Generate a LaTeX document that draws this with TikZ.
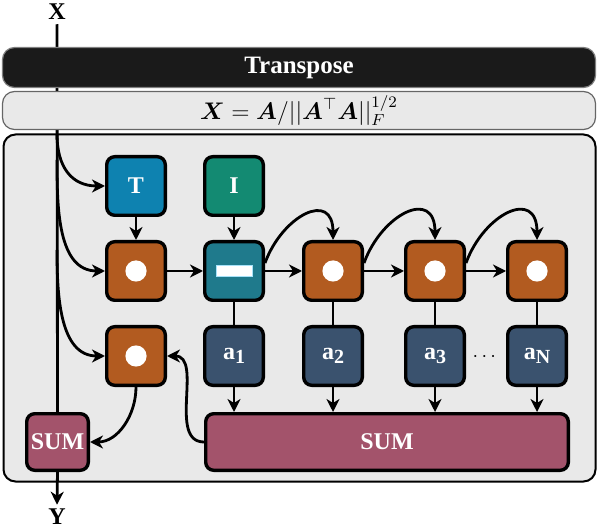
\documentclass[tikz,border=0pt]{standalone}
\usepackage{amsmath}
\usepackage{amssymb}
\usepackage[no-math]{fontspec}
\setmainfont{Liberation Serif}
\usetikzlibrary{arrows.meta}

\definecolor{tblue}{HTML}{0E82B0}
\definecolor{igreen}{HTML}{138A72}
\definecolor{mteal}{HTML}{1F7A8C}
\definecolor{dotorange}{HTML}{B25B20}
\definecolor{aslate}{HTML}{3A526E}
\definecolor{summauve}{HTML}{A3536B}
\definecolor{panelgray}{HTML}{E9E9E9}
\definecolor{barblack}{HTML}{1A1A1A}

\newcommand{\asub}[1]{a\raisebox{-0.4ex}{\fontsize{10}{12}\selectfont #1}}

\tikzset{
  blk/.style={draw=black,line width=1.7pt,rounded corners=4pt,minimum size=29.3pt,inner sep=0pt,text=white,font=\bfseries\fontsize{12}{14}\selectfont},
  dotblk/.style={blk,fill=dotorange,path picture={\fill[white] (path picture bounding box.center) circle (5.3pt);}},
  minusblk/.style={blk,fill=mteal,path picture={\filldraw[white,draw=cyan!35,line width=0.5pt,sharp corners] ([xshift=-9pt,yshift=-2.7pt]path picture bounding box.center) rectangle ++(18pt,5.4pt);}},
  ablk/.style={blk,fill=aslate},
  sumblk/.style={blk,fill=summauve,minimum height=28.3pt},
  wire/.style={line width=1.4pt},
  bar/.style={rounded corners=6pt,minimum width=296.5pt,inner sep=0pt,line width=0.6pt}
}

\begin{document}
\begin{tikzpicture}[x=0.5pt,y=0.5pt,>={Stealth[length=6.5pt,width=6.5pt,inset=2pt]}]
  \useasboundingbox (0,0) rectangle (598,-528);
  % panel
  \node[draw=black,line width=1pt,fill=panelgray,rounded corners=6pt,minimum width=296pt,minimum height=173.5pt,inner sep=0pt] (C) at (299.5,-308) {};
  % blocks
  \node[blk,fill=tblue] (T) at (136,-186) {T};
  \node[blk,fill=igreen] (I) at (234,-186) {I};
  \node[dotblk] (O-1) at (136,-271) {};
  \node[minusblk] (M) at (234,-271) {};
  \node[dotblk] (O-2) at (333,-271) {};
  \node[dotblk] (O-3) at (435,-271) {};
  \node[dotblk] (O-4) at (537,-271) {};
  \node[dotblk] (P) at (136,-356) {};
  \node[ablk] (A-1) at (234,-356) {\asub{1}};
  \node[ablk] (A-2) at (333,-356) {\asub{2}};
  \node[ablk] (A-3) at (435,-356) {\asub{3}};
  \node[ablk] (A-N) at (537,-356) {\asub{N}};
  \node[font=\bfseries] (D) at (486,-357) {$\cdots$};
  \node[sumblk,minimum width=181.3pt] (S) at (387,-442) {SUM};
  \node[sumblk,minimum width=30.8pt] (SS) at (57.5,-442) {SUM};
  \node[font=\bfseries\fontsize{12}{14}\selectfont,inner sep=2pt] (X) at (57,-12) {X};
  \node[font=\bfseries\fontsize{12}{14}\selectfont,inner sep=2pt] (Y) at (57,-517) {Y};
  \coordinate (B-1) at (57,-134);
  \coordinate (B-2) at (57,-160);
  \coordinate (B-3) at (57,-250);
  % wires
  \draw[wire] (X.south) -- (SS.north);
  \draw[wire,->] (SS.south) -- (Y.north);
  \draw[wire,->] (B-1) to[out=-90,in=180,looseness=1.2] (T.west);
  \draw[wire,->] (B-2) to[out=-90,in=180] (O-1.west);
  \draw[wire,->] (B-3) to[out=-90,in=180] (P.west);
  \draw[wire,->] (T) -- (O-1);
  \draw[wire,->] (I) -- (M);
  \draw[wire,->] (O-1) -- (M);
  \draw[wire,->] (M) -- (O-2);
  \draw[wire,->] (O-2) -- (O-3);
  \draw[wire,->] (O-3) -- (O-4);
  \draw[wire,->] ([yshift=4pt]M.east) to[out=70,in=90,looseness=1.8] (O-2.north);
  \draw[wire,->] ([yshift=4pt]O-2.east) to[out=70,in=90,looseness=1.8] (O-3.north);
  \draw[wire,->] ([yshift=4pt]O-3.east) to[out=70,in=90,looseness=1.8] (O-4.north);
  \draw[wire] (M) -- (A-1);
  \draw[wire] (O-2) -- (A-2);
  \draw[wire] (O-3) -- (A-3);
  \draw[wire] (O-4) -- (A-N);
  \draw[wire,->] (A-1) -- (A-1 |- S.north);
  \draw[wire,->] (A-2) -- (A-2 |- S.north);
  \draw[wire,->] (A-3) -- (A-3 |- S.north);
  \draw[wire,->] (A-N) -- (A-N |- S.north);
  \draw[wire,->] (P.south) to[out=-90,in=0] (SS.east);
  \draw[wire,->] (S.west) to[out=180,in=0] (P.east);
  % bars
  \node[bar,fill=barblack,draw=gray,minimum height=20pt,text=white,font=\bfseries\fontsize{12.5}{15}\selectfont] (TR) at (299,-67.5) {Transpose};
  \node[bar,fill=panelgray,draw=gray!80!black,minimum height=19pt,font=\large] (F) at (299,-110.5) {$\boldsymbol{X}=\boldsymbol{A}/||\boldsymbol{A}^{\top}\boldsymbol{A}||_F^{1/2}$};
\end{tikzpicture}
\end{document}
